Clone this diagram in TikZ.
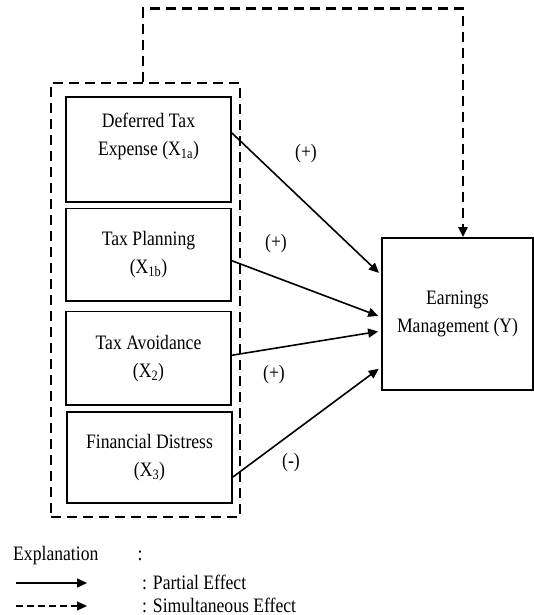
\documentclass[tikz,border=0pt]{standalone}
\usepackage{fontspec}
\setmainfont{Liberation Serif}[FakeStretch=0.86]
\usetikzlibrary{arrows.meta}
\tikzset{
    varbox/.style={draw, line width=1.8pt, minimum width=165pt, inner sep=0pt, align=center},
    txt/.style={inner sep=0pt, align=center, font=\fontsize{20.5}{28}\selectfont},
    effect/.style={line width=1.6pt, -{Triangle[length=10pt,width=9pt]}, shorten >=3pt},
    simul/.style={line width=2.8pt, dash pattern=on 10pt off 6pt, -{Triangle[length=10pt,width=9pt]}},
    legsimul/.style={line width=1.2pt, dash pattern=on 7pt off 4pt, -{Triangle[length=10pt,width=9pt]}},
    sign/.style={txt},
}

\begin{document}
\begin{tikzpicture}[x=1pt,y=1pt]
\useasboundingbox (0,0) rectangle (533,615);
\node[varbox, minimum height=105pt] (x1a) at (148.5,465.5) {};
\node[txt] (x1a-text) at ([yshift=13.5pt]x1a.center) {Deferred Tax\\Expense (X\textsubscript{1a})};
\node[varbox, txt, minimum height=92.5pt] (x1b) at (148.5,360.25) {Tax Planning\\(X\textsubscript{1b})};
\node[varbox, txt, minimum height=93.5pt] (x2) at (148.5,256.75) {Tax Avoidance\\(X\textsubscript{2})};
\node[varbox, txt, minimum height=91pt] (x3) at (149.5,157.5) {Financial Distress\\(X\textsubscript{3})};
\node[varbox, txt, minimum width=151pt, minimum height=152pt] (y) at (457.5,301) {Earnings\\Management (Y)};
\node[draw, line width=2.8pt, dash pattern=on 10pt off 6pt, minimum width=189pt, minimum height=434pt] (grp) at (145.5,315) {};

\draw[effect] ([yshift=16.5pt]x1a.east) -- ([yshift=39pt]y.west);
\draw[effect] ([yshift=-6pt]x1b.east) -- ([yshift=-3pt]y.west);
\draw[effect] ([yshift=3pt]x2.east) -- ([yshift=-17pt]y.west);
\draw[effect] ([yshift=-19.5pt]x3.east) -- ([yshift=-53pt]y.west);
\draw[simul] ([xshift=-2.5pt]grp.north) -- ++(0,73) -| ([xshift=5.5pt]y.north);

\node[sign] (s1a) at (306,461) {(+)};
\node[sign] (s1b) at (276,371) {(+)};
\node[sign] (s2) at (274,240) {(+)};
\node[sign] (s3) at (291,152.5) {(-)};

\node[txt, anchor=west] (expl) at (13,59) {Explanation};
\node[txt] (colon) at (140,59) {:};
\coordinate (p1) at (16,32);
\coordinate (p2) at (87,32);
\coordinate (q1) at (16,9);
\coordinate (q2) at (87,9);
\draw[line width=1.6pt, -{Triangle[length=10pt,width=9pt]}] (p1) -- (p2);
\draw[legsimul] (q1) -- (q2);
\node[txt, anchor=west] (partial) at (142,33) {: Partial Effect};
\node[txt, anchor=west] (simult) at (142,10) {: Simultaneous Effect};
\end{tikzpicture}
\end{document}
